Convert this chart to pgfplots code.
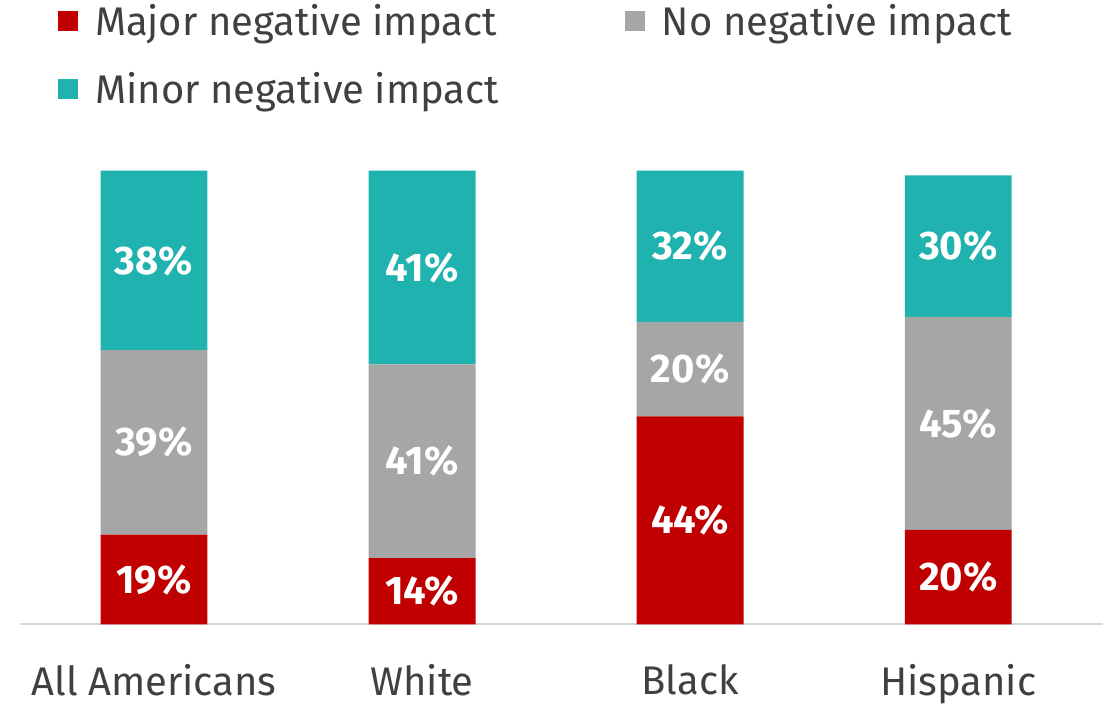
\documentclass[border=0pt]{standalone}
\usepackage{pgfplots}
\pgfplotsset{compat=1.18}
\usepackage{fontspec}
\setmainfont{Fira Sans}
\newfontfamily\labelfont{Fira Sans Bold}

\definecolor{major}{HTML}{C00000}
\definecolor{nonneg}{HTML}{A6A6A6}
\definecolor{minor}{HTML}{20B2AE}
\definecolor{axisgray}{HTML}{D9D9D9}

\pgfplotsset{
  common/.style={
    width=542pt, height=236.5pt, scale only axis,
    xmin=-0.5, xmax=3.54, ymin=0, ymax=100,
  }
}

\begin{document}
\begin{tikzpicture}
\begin{axis}[
  common,
  ybar stacked,
  bar width=53.5pt,
  axis x line=bottom,
  axis line style={-, draw=axisgray, line width=1pt},
  axis y line=none,
  xtick={0,1,2,3},
  xticklabels={All Americans, White, Black, Hispanic},
  major tick length=0pt,
  xticklabel style={font=\fontsize{20}{23}\selectfont, text=black!75, yshift=-16.5pt},
  legend columns=2,
  legend style={
    at={(0.035,1.322)}, anchor=north west,
    draw=none, fill=none, inner sep=0pt,
    font=\fontsize{20}{23}\selectfont, text=black!75,
    row sep=13pt,
    /tikz/column 2/.style={column sep=61pt},
  },
  legend cell align=left,
  legend image code/.code={\fill[#1] (0pt,-5pt) rectangle (10pt,5pt); \path (16.5pt,0pt);},
]
\addplot[fill=major, draw=none] coordinates {(0,19) (1,14) (2,44) (3,20)};
\addlegendentry{Major negative impact}
\addplot[fill=nonneg, draw=none] coordinates {(0,39) (1,41) (2,20) (3,45)};
\addlegendentry{No negative impact}
\addplot[fill=minor, draw=none] coordinates {(0,38) (1,41) (2,32) (3,30)};
\addlegendentry{Minor negative impact}
\end{axis}
\begin{axis}[
  common,
  hide axis,
  nodes near coords,
  point meta=explicit symbolic,
  every node near coord/.style={anchor=center, text=white, font=\labelfont\fontsize{20}{22}\selectfont},
]
\addplot[draw=none, mark=none] coordinates {
  (0,9.5)[19\%] (0,38.5)[39\%] (0,77)[38\%]
  (1,7)[14\%] (1,34.5)[41\%] (1,75.5)[41\%]
  (2,22)[44\%] (2,54)[20\%] (2,80)[32\%]
  (3,10)[20\%] (3,42.5)[45\%] (3,80)[30\%]
};
\end{axis}
\path (-10pt,0pt);
\end{tikzpicture}
\end{document}
